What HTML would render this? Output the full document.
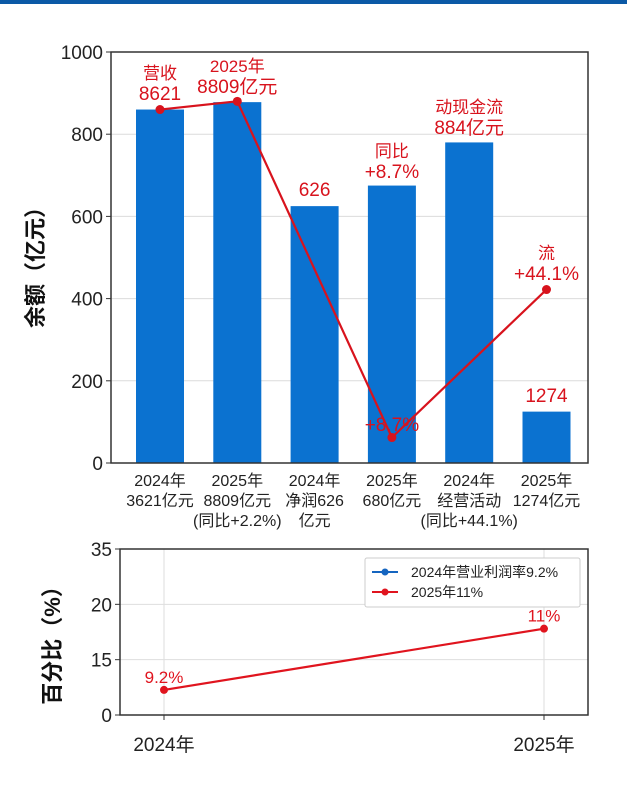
<!DOCTYPE html>
<html><head><meta charset="utf-8"><style>
html,body{margin:0;padding:0;background:#fff;}
body{width:627px;height:786px;overflow:hidden;font-family:"Liberation Sans","Noto Sans CJK SC",sans-serif;}
</style></head><body>
<div style="position:absolute;left:0;top:0;width:627px;height:4px;background:#0b59a6;"></div>
<svg id="top" width="627" height="786" style="position:absolute;left:0;top:0" font-family="Liberation Sans, Noto Sans CJK SC, sans-serif"></svg>
<script>
const barCats=[["2024年","3621亿元"],["2025年","8809亿元","(同比+2.2%)"],["2024年","净润626","亿元"],["2025年","680亿元"],["2024年","经营活动","(同比+44.1%)"],["2025年","1274亿元"]];
const barValues=[860,878,625,675,780,125];
const yTicks=[0,200,400,600,800,1000];
const lineIdx=[0,1,3,5];
const lineValues=[860,880,62,422];
const annoText=[["营收","8621"],["2025年","8809亿元"],["626"],["同比","+8.7%"],["动现金流","884亿元"],["1274"]];
const annoValues=[883,900,650,693,800,148];
const pctCats=["2024年","2025年"];
const pctValues=[6.8,17.8];
const pctLabels=["9.2%","11%"];
const pctTicks=[0,15,20,35];
const legendNames=["2024年营业利润率9.2%","2025年11%"];
const legendColors=["#1565c0","#e0141e"];

const NS="http://www.w3.org/2000/svg";
const svg=document.getElementById('top');
function mk(t,a,txt){const e=document.createElementNS(NS,t);for(const k in a)e.setAttribute(k,a[k]);if(txt!=null)e.textContent=txt;svg.appendChild(e);return e;}
const L=111,R=588,T=52,B=463;
const X=i=>160+i*77.3;
const Y=v=>B-v/1000*(B-T);
yTicks.forEach(t=>{
  if(t>0&&t<1000){const g=mk('line',{x1:L,x2:R,y1:Y(t),y2:Y(t),stroke:'#dcdcdc','stroke-width':1});}
  const tk=mk('line',{x1:L-5,x2:L,y1:Y(t),y2:Y(t),stroke:'#333'});
  const tl=mk('text',{x:L-8,y:Y(t)+7,'text-anchor':'end','font-size':19,fill:'#222'},t);
});
barValues.forEach((v,i)=>{
  const b=mk('rect',{x:X(i)-24,y:Y(v),width:48,height:B-Y(v),fill:'#0b72d0'});
  barCats[i].forEach((s,j)=>{const t=mk('text',{x:X(i),y:486+j*20,'text-anchor':'middle','font-size':16,fill:'#222'},s);});
});
const fr=mk('rect',{x:L,y:T,width:R-L,height:B-T,fill:'none',stroke:'#333','stroke-width':1.5});
const lo=mk('text',{x:X(3),y:431,'text-anchor':'middle','font-size':19,fill:'#d8131d'},'+8.7%');
const pts=lineIdx.map((k,j)=>X(k)+','+Y(lineValues[j])).join(' ');
const pl=mk('polyline',{points:pts,fill:'none',stroke:'#d8131d','stroke-width':2.2});
lineIdx.forEach((k,j)=>{const c=mk('circle',{cx:X(k),cy:Y(lineValues[j]),r:4.5,fill:'#d8131d'});});
annoText.forEach((a,i)=>{const base=Y(annoValues[i]);a.forEach((s,j)=>{const n=a.length;
  const t=mk('text',{x:X(i),y:base-(n-1-j)*21,'text-anchor':'middle','font-size':j===n-1?19:17,fill:'#d8131d'},s);});});
const f1=mk('text',{x:X(5),y:259,'text-anchor':'middle','font-size':17,fill:'#d8131d'},'流');
const f2=mk('text',{x:X(5),y:280,'text-anchor':'middle','font-size':19,fill:'#d8131d'},'+44.1%');
const yt=mk('text',{x:0,y:0,'text-anchor':'middle','font-size':22,'font-weight':'bold',fill:'#111',transform:'translate(43,262) rotate(-90)'},'余额（亿元）');

const L2=120,R2=588,T2=549,B2=715;
const X2=i=>i===0?164:544;
function Y2(v){for(let k=0;k<pctTicks.length-1;k++){if(v<=pctTicks[k+1]){const f=(v-pctTicks[k])/(pctTicks[k+1]-pctTicks[k]);return B2-(k+f)/(pctTicks.length-1)*(B2-T2);}}return T2;}
pctTicks.forEach(t=>{
  if(t>0&&t<35){const g=mk('line',{x1:L2,x2:R2,y1:Y2(t),y2:Y2(t),stroke:'#dedede'});}
  const tk=mk('line',{x1:L2-5,x2:L2,y1:Y2(t),y2:Y2(t),stroke:'#333'});
  const tl=mk('text',{x:L2-8,y:Y2(t)+7,'text-anchor':'end','font-size':19,fill:'#222'},t);
});
pctCats.forEach((c,i)=>{
  const g=mk('line',{x1:X2(i),x2:X2(i),y1:T2,y2:B2,stroke:'#dedede'});
  const tk=mk('line',{x1:X2(i),x2:X2(i),y1:B2,y2:B2+5,stroke:'#333'});
  const t=mk('text',{x:X2(i),y:751,'text-anchor':'middle','font-size':19,fill:'#222'},c);
});
const fr2=mk('rect',{x:L2,y:T2,width:R2-L2,height:B2-T2,fill:'none',stroke:'#333','stroke-width':1.5});
const lg=mk('rect',{x:365,y:558,width:215,height:49,fill:'#fff',stroke:'#ccc',rx:2});
legendNames.forEach((n,i)=>{const y=572+i*20;
  const l=mk('line',{x1:372,x2:398,y1:y,y2:y,stroke:legendColors[i],'stroke-width':2});
  const c=mk('circle',{cx:385,cy:y,r:3.5,fill:legendColors[i]});
  const t=mk('text',{x:411,y:y+5,'font-size':14,fill:'#222'},n);});
const pl2=mk('polyline',{points:pctValues.map((v,i)=>X2(i)+','+Y2(v)).join(' '),fill:'none',stroke:'#e0141e','stroke-width':2.2});
pctValues.forEach((v,i)=>{const c=mk('circle',{cx:X2(i),cy:Y2(v),r:4,fill:'#e0141e'});
  const t=mk('text',{x:X2(i),y:Y2(v)-7,'text-anchor':'middle','font-size':17,fill:'#e0141e'},pctLabels[i]);});
const yt2=mk('text',{x:0,y:0,'text-anchor':'middle','font-size':22,'font-weight':'bold',fill:'#111',transform:'translate(60,640) rotate(-90)'},'百分比（%）');
</script>
</body></html>
